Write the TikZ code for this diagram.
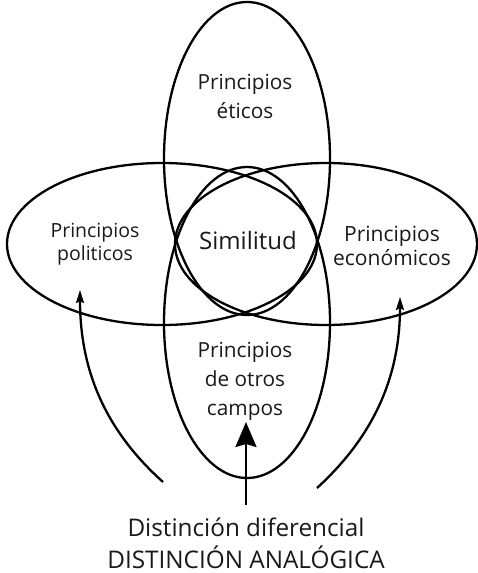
\documentclass[tikz,border=0pt]{standalone}
\usepackage{fontspec}
\setmainfont{Open Sans}
\usetikzlibrary{arrows.meta}

\begin{document}
\begin{tikzpicture}[x=1pt,y=-1pt,line width=2.3pt,
  side/.style={align=center,font=\fontsize{19.5}{23.5}\selectfont,text=black!90},
  mid/.style={align=center,font=\fontsize{20.8}{29}\selectfont,text=black!90}]
  \useasboundingbox (0,0) rectangle (478,573);
  % sets
  \draw (247,158.5) ellipse [x radius=83,y radius=156.5];
  \draw (247,322.5) ellipse [x radius=83,y radius=155.5];
  \draw (162,244) ellipse [x radius=155,y radius=81];
  \draw (326,244) ellipse [x radius=151,y radius=81];
  % labels
  \node[mid] (etic) at (245,96) {Principios\\éticos};
  \node[side] (pol) at (95,244) {Principios\\politicos};
  \node[side,font=\fontsize{21}{24.5}\selectfont] (eco) at (392,246) {Principios\\económicos};
  \node[font=\fontsize{24}{28}\selectfont,text=black!90] (sim) at (248,240) {Similitud};
  \node[mid] (otr) at (245,381) {Principios\\de otros\\campos};
  \node[align=center,font=\fontsize{24.3}{32}\selectfont,text=black!90] (dist) at (246,543)
    {Distinción diferencial\\DISTINCIÓN ANALÓGICA};
  % arrows
  \coordinate (c0) at (246,505);
  \coordinate (c1) at (246,422);
  \coordinate (l0) at (163,482);
  \coordinate (l1) at (80,290);
  \coordinate (r0) at (317,488);
  \coordinate (r1) at (400,297);
  \draw[-{Stealth[length=25pt,width=21pt,inset=3pt]}] (c0) -- (c1);
  \draw[-{Stealth[length=13pt,width=8pt,inset=2pt]}] (l0) .. controls (105,430) and (80,370) .. (l1);
  \draw[-{Stealth[length=13pt,width=8pt,inset=2pt]}] (r0) .. controls (375,435) and (400,375) .. (r1);
\end{tikzpicture}
\end{document}
